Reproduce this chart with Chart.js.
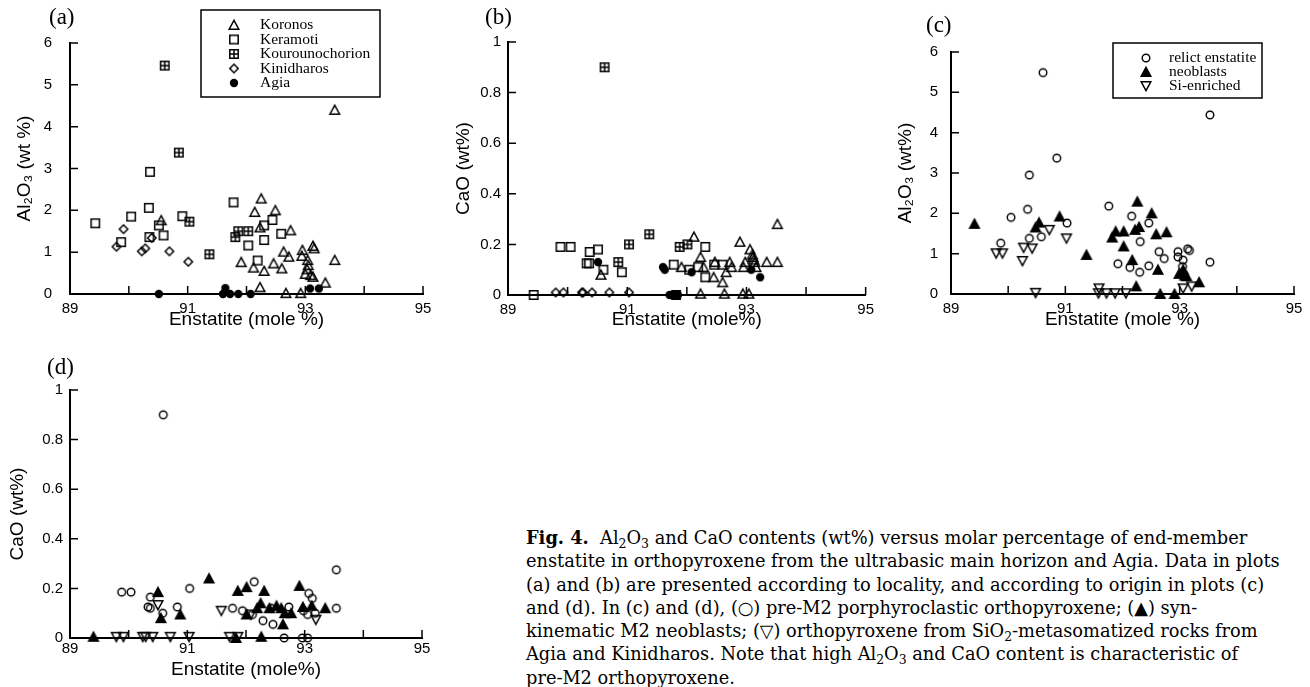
<!DOCTYPE html>
<html>
<head>
<meta charset="utf-8">
<script src="https://cdn.jsdelivr.net/npm/chart.js@4.4.1/dist/chart.umd.min.js"></script>
<style>
  body { margin: 0; background: #fff; }
  #page { position: relative; width: 1310px; height: 687px; overflow: hidden; }
  canvas { position: absolute; }
  .plab { position: absolute; font-family: "Liberation Serif", serif; font-size: 23px; line-height: 23px; color: #000; }
  #caption { position: absolute; left: 526px; top: 526px; font-family: "DejaVu Serif", serif; font-size: 17.8px; line-height: 23.3px; color: #000; white-space: nowrap; }
  #caption b { font-weight: bold; }
  #caption sub { font-size: 0.7em; vertical-align: -0.3em; line-height: 0; }
</style>
</head>
<body>
<div id="page">
  <canvas id="chA" width="440" height="331" style="left:0;top:0"></canvas>
  <canvas id="chB" width="440" height="331" style="left:440px;top:0"></canvas>
  <canvas id="chC" width="430" height="331" style="left:880px;top:0"></canvas>
  <canvas id="chD" width="440" height="341" style="left:0;top:340px"></canvas>
  <div class="plab" style="left:49px;top:5px">(a)</div>
  <div class="plab" style="left:485px;top:5px">(b)</div>
  <div class="plab" style="left:926px;top:13px">(c)</div>
  <div class="plab" style="left:47px;top:355px">(d)</div>
  <div id="caption">
    <div><b>Fig. 4.</b>&nbsp; Al<sub>2</sub>O<sub>3</sub> and CaO contents (wt%) versus molar percentage of end-member</div>
    <div>enstatite in orthopyroxene from the ultrabasic main horizon and Agia. Data in plots</div>
    <div>(a) and (b) are presented according to locality, and according to origin in plots (c)</div>
    <div>and (d). In (c) and (d), (○) pre-M2 porphyroclastic orthopyroxene; (▲) syn-</div>
    <div>kinematic M2 neoblasts; (▽) orthopyroxene from SiO<sub>2</sub>-metasomatized rocks from</div>
    <div>Agia and Kinidharos. Note that high Al<sub>2</sub>O<sub>3</sub> and CaO content is characteristic of</div>
    <div>pre-M2 orthopyroxene.</div>
  </div>
</div>
<script>
// ---- data: [enstatite mole %, oxide wt%] ----
// (a) Al2O3 by locality
const koronosAl = [[93.50,4.40],[90.55,1.76],[92.25,2.28],[92.14,1.96],[92.49,2.00],[92.23,1.59],[92.75,1.52],[92.63,1.01],[92.72,0.89],[91.91,0.76],[92.12,0.63],[92.30,0.55],[92.46,0.73],[92.60,0.61],[92.95,1.05],[92.94,0.91],[93.13,1.15],[93.15,1.09],[93.04,0.81],[93.05,0.69],[93.03,0.59],[93.00,0.48],[93.09,0.45],[93.13,0.41],[93.34,0.27],[93.50,0.81],[92.23,0.16],[92.67,0.02],[92.92,0.02]];
const keramotiAl = [[89.43,1.69],[89.87,1.24],[90.04,1.85],[90.36,2.92],[90.34,2.06],[90.35,1.36],[90.51,1.64],[90.59,1.40],[90.91,1.86],[91.78,2.19],[92.03,1.16],[92.19,0.80],[92.30,1.64],[92.30,1.29],[92.44,1.77],[92.59,1.44]];
const kourounoAl = [[90.61,5.46],[90.85,3.38],[91.03,1.73],[91.37,0.95],[91.81,1.36],[91.86,1.50],[92.03,1.50]];
const kinidharosAl = [[89.79,1.13],[89.91,1.55],[90.22,1.02],[90.28,1.09],[90.39,1.34],[90.69,1.02],[91.01,0.77]];
const agiaAl = [[90.51,0],[91.64,0.14],[91.60,0],[91.72,0],[91.86,0],[92.07,0],[93.08,0.13],[93.23,0.13]];

// (b) CaO by locality
const koronosCa = [[93.52,0.28],[92.12,0.23],[92.89,0.21],[93.06,0.18],[93.10,0.16],[93.12,0.14],[92.23,0.15],[91.91,0.11],[92.28,0.11],[92.47,0.13],[92.72,0.13],[92.75,0.11],[92.66,0.09],[92.45,0.07],[92.60,0.05],[92.95,0.11],[92.98,0.13],[93.11,0.15],[93.14,0.13],[93.16,0.11],[93.34,0.13],[93.52,0.13],[90.56,0.08],[92.23,0.005],[92.63,0.005],[92.94,0.005],[93.04,0.005]];
const keramotiCa = [[89.43,0],[89.88,0.19],[90.05,0.19],[90.37,0.17],[90.51,0.18],[90.36,0.125],[90.32,0.125],[90.60,0.10],[90.91,0.09],[91.78,0.12],[92.04,0.10],[92.19,0.11],[92.31,0.19],[92.31,0.07],[92.46,0.12],[92.60,0.12]];
const kourounoCa = [[90.62,0.90],[91.37,0.24],[91.03,0.20],[90.85,0.13],[91.88,0.19],[92.01,0.20],[91.82,0]];
const kinidharosCa = [[89.80,0.01],[89.93,0.01],[90.24,0.01],[90.26,0.01],[90.41,0.01],[90.70,0.01],[91.03,0.01]];
const agiaCa = [[90.51,0.13],[91.60,0.11],[91.63,0.10],[92.08,0.09],[93.23,0.07],[93.08,0.10],[91.71,0],[91.76,0],[91.80,0],[91.85,0]];

// (c) Al2O3 by origin
const relictAl = [[90.61,5.49],[90.85,3.37],[90.37,2.95],[93.53,4.44],[90.34,2.10],[90.05,1.90],[89.87,1.26],[90.37,1.38],[90.58,1.42],[91.03,1.76],[91.76,2.18],[92.16,1.93],[92.46,1.76],[92.31,1.30],[92.64,1.05],[92.73,0.88],[91.92,0.75],[92.13,0.66],[92.30,0.54],[92.46,0.70],[92.97,1.05],[92.97,0.92],[93.06,0.84],[93.14,1.12],[93.17,1.08],[93.05,0.68],[93.53,0.79]];
const neoblastAl = [[89.41,1.74],[90.48,1.65],[90.54,1.77],[90.90,1.92],[91.37,0.97],[91.82,1.40],[91.88,1.55],[92.02,1.55],[92.02,1.18],[92.26,2.29],[92.22,1.59],[92.29,1.66],[92.51,2.00],[92.59,1.48],[92.77,1.53],[92.17,0.84],[92.62,0.60],[92.24,0.19],[92.66,0],[92.91,0],[92.99,0.50],[93.09,0.46],[93.12,0.44],[93.34,0.29],[93.06,0.60]];
const siEnrAl = [[89.79,1.01],[89.90,1.01],[90.27,1.15],[90.25,0.82],[90.42,1.13],[90.72,1.59],[91.02,1.38],[90.48,0.03],[91.59,0.14],[91.58,0.02],[91.72,0.02],[91.87,0.02],[92.06,0.02],[93.06,0.14],[93.21,0.19]];

// (d) CaO by origin
const relictCa = [[90.59,0.90],[93.54,0.275],[89.88,0.185],[90.04,0.185],[90.37,0.165],[90.33,0.125],[90.37,0.12],[90.58,0.10],[91.04,0.20],[90.83,0.125],[91.77,0.12],[91.94,0.11],[92.11,0.095],[92.14,0.227],[92.29,0.07],[92.46,0.055],[92.43,0.12],[92.73,0.125],[92.65,0],[93.07,0.18],[93.13,0.16],[92.98,0.11],[93.05,0.095],[93.18,0.10],[93.54,0.12],[92.96,0],[93.05,0]];
const neoblastCa = [[89.40,0.005],[90.50,0.185],[90.55,0.08],[90.88,0.095],[91.37,0.24],[91.86,0.19],[92.01,0.205],[92.31,0.19],[92.25,0.14],[92.19,0.12],[92.40,0.12],[92.52,0.13],[92.60,0.12],[92.63,0.055],[92.66,0.10],[92.77,0.10],[92.91,0.21],[92.97,0.125],[93.12,0.13],[93.35,0.12],[92.26,0.005],[91.83,0],[92.01,0.095]];
const siEnrCa = [[89.79,0.005],[89.91,0.005],[90.24,0.005],[90.29,0.005],[90.41,0.005],[90.71,0.005],[91.03,0.005],[91.72,0.005],[91.86,0.005],[90.50,0.133],[91.58,0.11],[92.08,0.095],[93.19,0.074]];

const xTickLabels = ['89', '91', '93', '95'];

// ---- marker glyphs ----
function makeSymbol(kind) {
  const c = document.createElement('canvas');
  c.width = 14; c.height = 14;
  const g = c.getContext('2d');
  g.strokeStyle = '#000'; g.fillStyle = '#000'; g.lineWidth = 1.5;
  g.beginPath();
  if (kind === 'triUp' || kind === 'triFill') {
    g.moveTo(7, 2.3); g.lineTo(11.8, 11.2); g.lineTo(2.2, 11.2); g.closePath();
    if (kind === 'triFill') g.fill();
    g.stroke();
  } else if (kind === 'triDown') {
    g.moveTo(2.2, 2.8); g.lineTo(11.8, 2.8); g.lineTo(7, 11.7); g.closePath(); g.stroke();
  } else if (kind === 'square') {
    g.rect(2.8, 2.8, 8.4, 8.4); g.stroke();
  } else if (kind === 'boxPlus') {
    g.rect(2.8, 2.8, 8.4, 8.4); g.moveTo(7, 2.8); g.lineTo(7, 11.2); g.moveTo(2.8, 7); g.lineTo(11.2, 7); g.stroke();
  } else if (kind === 'diamond') {
    g.moveTo(7, 2.8); g.lineTo(11.2, 7); g.lineTo(7, 11.2); g.lineTo(2.8, 7); g.closePath(); g.stroke();
  } else if (kind === 'dot') {
    g.arc(7, 7, 4.2, 0, Math.PI * 2); g.fill();
  } else if (kind === 'ring') {
    g.lineWidth = 1.4; g.arc(7, 7, 3.8, 0, Math.PI * 2); g.stroke();
  }
  return c;
}
const sym = {};
['triUp','triFill','triDown','square','boxPlus','diamond','dot','ring'].forEach(k => sym[k] = makeSymbol(k));

function series(label, pts, kind) {
  return {
    label: label,
    data: pts.map(p => ({x: p[0], y: p[1]})),
    pointStyle: sym[kind],
    pointRadius: 7,
    clip: false,
    showLine: false
  };
}

// inward tick marks, as on the original axes
const inwardTicks = {
  id: 'inwardTicks',
  beforeDatasetsDraw(chart) {
    const ctx = chart.ctx, a = chart.chartArea;
    const xs = chart.scales.x, ys = chart.scales.y;
    ctx.save();
    ctx.strokeStyle = '#000';
    ctx.lineWidth = 1.5;
    ctx.beginPath();
    xs.ticks.forEach(t => { const px = xs.getPixelForValue(t.value); ctx.moveTo(px, a.bottom); ctx.lineTo(px, a.bottom - 8); });
    ys.ticks.forEach(t => { const py = ys.getPixelForValue(t.value); ctx.moveTo(a.left, py); ctx.lineTo(a.left + 8, py); });
    ctx.stroke();
    ctx.restore();
  }
};

// framed legend box
const boxLegend = {
  id: 'boxLegend',
  afterDraw(chart, args, o) {
    if (!o || !o.show) return;
    const ctx = chart.ctx;
    ctx.save();
    ctx.strokeStyle = '#000';
    ctx.lineWidth = 1.5;
    ctx.strokeRect(o.left, o.top, o.width, o.height);
    ctx.font = o.font;
    ctx.fillStyle = '#000';
    ctx.textBaseline = 'middle';
    chart.data.datasets.forEach((ds, i) => {
      const y = o.row0 + i * o.rowGap;
      ctx.drawImage(ds.pointStyle, o.symX - 7, y - 7);
      ctx.fillText(ds.label, o.textX, y);
    });
    ctx.restore();
  }
};

function makeChart(id, datasets, cfg) {
  return new Chart(document.getElementById(id), {
    type: 'scatter',
    data: { datasets: datasets },
    plugins: [inwardTicks, boxLegend],
    options: {
      responsive: false,
      animation: false,
      events: [],
      layout: { padding: { left: 0, right: cfg.padRight, top: cfg.padTop, bottom: 0 } },
      plugins: {
        legend: { display: false },
        tooltip: { enabled: false },
        boxLegend: cfg.legend || { show: false }
      },
      scales: {
        x: {
          type: 'linear', min: 89, max: 95,
          afterFit: s => { s.height = cfg.xHeight; },
          grid: { display: false, drawTicks: false },
          border: { display: true, color: '#000', width: 2 },
          ticks: {
            stepSize: 1, autoSkip: false, maxRotation: 0, padding: cfg.xTickPad,
            color: '#000', font: { family: 'Liberation Sans', size: 15 },
            callback: v => xTickLabels.includes(String(v)) ? String(v) : ''
          },
          title: {
            display: true, text: cfg.xTitle, color: '#000', padding: 0,
            font: { family: 'Liberation Sans', size: 19 }
          }
        },
        y: {
          type: 'linear', min: 0, max: cfg.yMax,
          afterFit: s => { s.width = cfg.yWidth; },
          grid: { display: false, drawTicks: false },
          border: { display: true, color: '#000', width: 2 },
          ticks: {
            stepSize: cfg.yStep, padding: cfg.yTickPad,
            color: '#000', font: { family: 'Liberation Sans', size: 15 },
            callback: v => String(Math.round(v * 10) / 10)
          },
          title: {
            display: true, text: cfg.yTitle, color: '#000', padding: { top: cfg.yTitlePad, bottom: 0 },
            font: { family: 'Liberation Sans', size: 19 }
          }
        }
      }
    }
  });
}

makeChart('chA', [
  series('Koronos', koronosAl, 'triUp'),
  series('Keramoti', keramotiAl, 'square'),
  series('Kourounochorion', kourounoAl, 'boxPlus'),
  series('Kinidharos', kinidharosAl, 'diamond'),
  series('Agia', agiaAl, 'dot')
], {
  padRight: 17, padTop: 43, xHeight: 37, yWidth: 70, yMax: 6, yStep: 1,
  xTickPad: 6, yTickPad: 18, yTitlePad: 13,
  xTitle: 'Enstatite (mole %)', yTitle: 'Al₂O₃ (wt %)',
  legend: { show: true, left: 201, top: 10, width: 179, height: 87, symX: 234, textX: 260, row0: 25, rowGap: 14.5, font: '15.5px "Liberation Serif"' }
});

makeChart('chB', [
  series('Koronos', koronosCa, 'triUp'),
  series('Keramoti', keramotiCa, 'square'),
  series('Kourounochorion', kourounoCa, 'boxPlus'),
  series('Kinidharos', kinidharosCa, 'diamond'),
  series('Agia', agiaCa, 'dot')
], {
  padRight: 13, padTop: 42, xHeight: 36, yWidth: 68, yMax: 1, yStep: 0.2,
  xTickPad: 6, yTickPad: 7, yTitlePad: 12,
  xTitle: 'Enstatite (mole%)', yTitle: 'CaO (wt%)'
});

makeChart('chC', [
  series('relict enstatite', relictAl, 'ring'),
  series('neoblasts', neoblastAl, 'triFill'),
  series('Si-enriched', siEnrAl, 'triDown')
], {
  padRight: 16, padTop: 52, xHeight: 37, yWidth: 71, yMax: 6, yStep: 1,
  xTickPad: 6, yTickPad: 13, yTitlePad: 14,
  xTitle: 'Enstatite (mole %)', yTitle: 'Al₂O₃ (wt%)',
  legend: { show: true, left: 233, top: 43, width: 149, height: 55, symX: 266, textX: 289, row0: 58, rowGap: 14, font: '15.5px "Liberation Serif"' }
});

makeChart('chD', [
  series('relict enstatite', relictCa, 'ring'),
  series('neoblasts', neoblastCa, 'triFill'),
  series('Si-enriched', siEnrCa, 'triDown')
], {
  padRight: 18, padTop: 50, xHeight: 43, yWidth: 70, yMax: 1, yStep: 0.2,
  xTickPad: 2, yTickPad: 7, yTitlePad: 6,
  xTitle: 'Enstatite (mole%)', yTitle: 'CaO (wt%)'
});
</script>
</body>
</html>
